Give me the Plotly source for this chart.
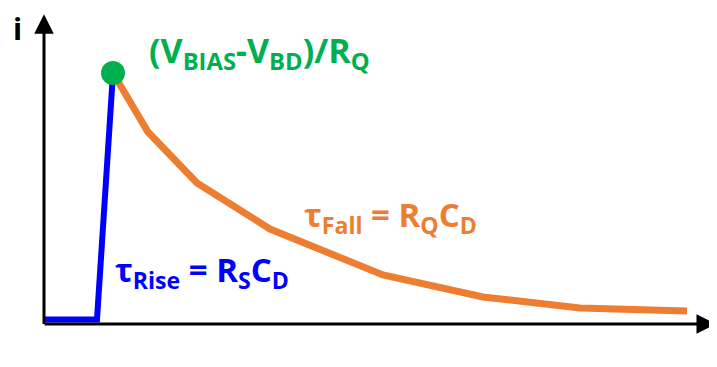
import plotly.graph_objects as go

# Data (arbitrary units: t along x, i along y)
rise_t = [0.1, 5.3, 6.9]
rise_i = [0.014, 0.014, 1.0]

fall_t = [6.9, 10.4, 15.3, 22.6, 33.9, 43.9, 53.6, 64.3]
fall_i = [1.0, 0.764, 0.56, 0.376, 0.192, 0.104, 0.06, 0.048]

peak_t = [6.9]
peak_i = [1.0]

BLUE = "#0000FF"
ORANGE = "#ED7D31"
GREEN = "#00B050"
FONT = "Open Sans"

fig = go.Figure()
fig.add_trace(go.Scatter(x=rise_t, y=rise_i, mode="lines",
                         line=dict(color=BLUE, width=6), hoverinfo="skip"))
fig.add_trace(go.Scatter(x=fall_t, y=fall_i, mode="lines",
                         line=dict(color=ORANGE, width=7), hoverinfo="skip"))
fig.add_trace(go.Scatter(x=peak_t, y=peak_i, mode="markers",
                         marker=dict(color=GREEN, size=24), hoverinfo="skip"))

# axes arrows
fig.add_annotation(x=0, y=1.235, ax=0, ay=-0.01, xref="x", yref="y",
                   axref="x", ayref="y", showarrow=True, arrowhead=2,
                   arrowsize=1.3, arrowwidth=3, arrowcolor="black", text="")
fig.add_annotation(x=67.2, y=-0.004, ax=-0.1, ay=-0.004, xref="x", yref="y",
                   axref="x", ayref="y", showarrow=True, arrowhead=2,
                   arrowsize=1.3, arrowwidth=3, arrowcolor="black", text="")

# labels
fig.add_annotation(x=-2.7, y=1.18, text="<b>i</b>", showarrow=False,
                   font=dict(family=FONT, size=30, color="black"))
fig.add_annotation(x=67.1, y=-0.115, text="<b>t</b>", showarrow=False,
                   font=dict(family=FONT, size=30, color="black"))
fig.add_annotation(x=21.5, y=1.085,
                   text="<b>(V<sub>BIAS</sub>-V<sub>BD</sub>)/R<sub>Q</sub></b>",
                   showarrow=False, font=dict(family=FONT, size=34, color=GREEN))
fig.add_annotation(x=34.6, y=0.428,
                   text="<b>τ<sub>Fall</sub> = R<sub>Q</sub>C<sub>D</sub></b>",
                   showarrow=False, font=dict(family=FONT, size=33, color=ORANGE))
fig.add_annotation(x=15.8, y=0.208,
                   text="<b>τ<sub>Rise</sub> = R<sub>S</sub>C<sub>D</sub></b>",
                   showarrow=False, font=dict(family=FONT, size=33, color=BLUE))

# page body adds an 8px offset; ranges compensate so marks land in place
fig.update_layout(
    width=717, height=367, margin=dict(l=0, r=0, t=0, b=0),
    paper_bgcolor="white", plot_bgcolor="white", showlegend=False,
    xaxis=dict(range=[-3.6, 68.1], visible=False, fixedrange=True),
    yaxis=dict(range=[-0.208, 1.26], visible=False, fixedrange=True),
)
fig.write_html("out.html")
